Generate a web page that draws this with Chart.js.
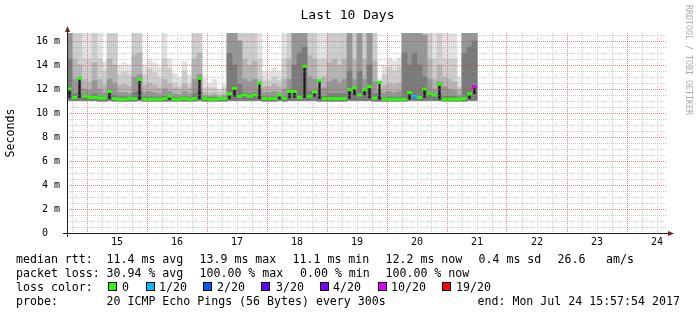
<!DOCTYPE html>
<html>
<head>
<meta charset="utf-8">
<script src="https://cdn.jsdelivr.net/npm/chart.js@4.4.1/dist/chart.umd.min.js"></script>
<style>
  html, body { margin: 0; padding: 0; background: #fff; }
</style>
</head>
<body>
<canvas id="smoke" width="697" height="315"></canvas>
<script>
// time of each 2 h bin, in hours since Jul 14 00:00
const binHours = [
  17, 19, 21, 23, 25, 27, 29, 31, 33, 35, 37, 39, 41, 43, 45, 47, 49, 51, 53, 55,
  57, 59, 61, 63, 65, 67, 69, 71, 73, 75, 77, 79, 81, 83, 85, 87, 89, 91, 93, 95,
  97, 99, 101, 103, 105, 107, 109, 111, 113, 115, 117, 119, 121, 123, 125, 127, 129, 131, 133, 135,
  137, 139, 141, 143, 145, 147, 149, 151, 153, 155, 157, 159, 161, 163, 165, 167, 169, 171, 173, 175,
  177, 179
];

// median rtt (ms)
const median = [
  12.0, 11.3, 12.9, 11.4, 11.3, 11.3, 11.25, 11.25, 11.8, 11.2,
  11.15, 11.15, 11.2, 11.2, 12.8, 11.15, 11.15, 11.15, 11.15, 11.2,
  11.4, 11.15, 11.15, 11.2, 11.15, 11.2, 12.9, 11.2, 11.15, 11.15,
  11.2, 11.2, 11.6, 12.05, 11.4, 11.5, 11.4, 11.5, 12.5, 11.2,
  11.2, 11.2, 11.5, 11.25, 11.8, 11.8, 11.3, 13.9, 11.4, 11.75,
  12.7, 11.2, 11.2, 11.2, 11.2, 11.2, 11.95, 12.1, 11.5, 11.95,
  12.2, 11.25, 12.55, 11.15, 11.15, 11.15, 11.15, 11.15, 11.7, 11.4,
  11.3, 12.0, 11.6, 11.5, 12.4, 11.15, 11.15, 11.15, 11.15, 11.2,
  11.6, 12.2
];

// lost pings out of 20
const loss = [
  0, 0, 0, 0, 0, 0, 0, 0, 0, 0, 0, 0, 0, 0, 0, 0, 0, 0, 0, 0,
  0, 0, 0, 0, 0, 0, 0, 0, 0, 0, 0, 0, 0, 0, 0, 0, 0, 0, 0, 0,
  0, 0, 0, 0, 0, 0, 0, 0, 0, 0, 0, 0, 0, 0, 0, 0, 0, 0, 0, 0,
  0, 0, 0, 0, 0, 0, 0, 0, 0, 1, 0, 0, 0, 0, 0, 0, 0, 0, 0, 0,
  0, 10
];

// fastest ping of each bin (bottom of the smoke)
const smokeMin = [
  11.05, 11.05, 11.05, 11.05, 11.05, 11.05, 11.0, 11.0, 11.05, 11.0,
  11.0, 11.0, 11.0, 11.0, 11.05, 11.0, 11.0, 11.0, 11.0, 11.0,
  11.0, 11.0, 11.0, 11.0, 11.0, 11.0, 11.05, 11.0, 11.0, 11.0,
  11.0, 11.0, 11.05, 11.05, 11.05, 11.05, 11.05, 11.05, 11.05, 11.0,
  11.0, 11.0, 11.05, 11.0, 11.05, 11.05, 11.05, 11.05, 11.05, 11.05,
  11.0, 11.0, 11.0, 11.0, 11.0, 11.0, 11.05, 11.05, 11.05, 11.05,
  11.05, 11.0, 11.0, 11.0, 11.0, 11.0, 11.0, 11.0, 11.05, 11.05,
  11.05, 11.05, 11.05, 11.05, 11.05, 11.0, 11.0, 11.0, 11.0, 11.0,
  11.05, 11.05
];

// upper edge of each smoke band, outer (light) to inner (dark); 17 = above the top
const smoke1 = [
  17, 17, 17, 17, 17, 17, 17, 14.3, 17, 17,
  14.0, 14.2, 14.0, 17, 17, 14.0, 14.5, 14.2, 13.8, 17,
  14.5, 13.3, 13.0, 14.3, 13.2, 17, 17, 12.9, 12.5, 12.8,
  12.0, 12.4, 17, 17, 17, 17, 17, 17, 17, 13.5,
  13.5, 13.8, 13.5, 17, 17, 17, 17, 17, 17, 17,
  17, 17, 17, 17, 17, 17, 17, 17, 17, 17,
  17, 17, 12.8, 14.0, 14.6, 14.3, 14.6, 17, 17, 17,
  17, 17, 17, 17, 17, 17, 17, 17, 13.0, 17,
  17, 17
];
const smoke2 = [
  17, 17, 17, 14.5, 14.5, 17, 14.5, 13.5, 17, 17,
  13.2, 13.4, 13.2, 17, 17, 13.2, 13.7, 13.4, 13.0, 14.5,
  13.7, 12.5, 12.2, 13.5, 12.4, 17, 17, 12.1, 12.1, 12.1,
  11.8, 12.1, 17, 17, 17, 17, 17, 17, 14.5, 12.7,
  12.7, 13.0, 12.7, 14.5, 17, 17, 17, 17, 17, 17,
  14.5, 14.5, 17, 17, 17, 17, 17, 17, 17, 17,
  17, 17, 12.0, 13.2, 13.8, 13.5, 13.8, 17, 17, 17,
  17, 17, 17, 14.5, 17, 14.5, 14.5, 14.5, 12.2, 17,
  17, 17
];
const smoke3 = [
  17, 14.5, 14.0, 12.8, 12.6, 14.2, 12.8, 12.3, 14.5, 14.0,
  12.3, 12.4, 12.2, 14.8, 15.0, 12.3, 12.5, 12.3, 12.1, 12.8,
  12.4, 12.1, 12.0, 12.4, 12.1, 14.5, 15.0, 11.7, 11.6, 11.7,
  11.5, 11.6, 17, 17, 16.0, 14.5, 14.0, 14.3, 12.8, 12.2,
  12.2, 12.4, 12.2, 12.8, 14.5, 17, 17, 17, 14.8, 14.5,
  12.8, 13.0, 14.2, 14.5, 14.0, 14.5, 17, 14.5, 16.5, 14.5,
  17, 14.3, 12.0, 12.3, 12.5, 12.4, 12.5, 17, 17, 17,
  17, 16.5, 14.5, 12.8, 14.0, 13.0, 12.8, 12.6, 12.0, 17,
  17, 17
];
const smoke4 = [
  17, 12.8, 12.6, 12.0, 11.9, 12.7, 12.0, 11.7, 12.8, 12.5,
  11.7, 11.7, 11.6, 13.0, 13.2, 11.7, 11.8, 11.7, 11.6, 12.0,
  11.8, 11.6, 11.5, 11.8, 11.6, 12.8, 13.2, 11.45, 11.4, 11.45,
  11.35, 11.4, 17, 17, 16.0, 12.8, 12.6, 12.8, 12.0, 11.7,
  11.7, 11.8, 11.7, 12.0, 12.8, 17, 17, 17, 13.0, 12.8,
  12.0, 12.1, 12.6, 12.8, 12.5, 12.8, 17, 12.8, 17, 12.8,
  17, 12.6, 11.6, 11.7, 11.8, 11.7, 11.8, 17, 17, 17,
  17, 16.5, 12.8, 12.0, 12.6, 12.2, 12.0, 11.9, 11.5, 17,
  17, 17
];
const smoke5 = [
  14.5, 11.6, 11.6, 11.4, 11.4, 11.6, 11.4, 11.35, 11.6, 11.5,
  11.35, 11.35, 11.3, 11.7, 11.8, 11.35, 11.35, 11.35, 11.3, 11.4,
  11.4, 11.3, 11.3, 11.35, 11.3, 11.6, 11.8, 11.3, 11.3, 11.3,
  11.25, 11.3, 15.0, 14.0, 12.4, 11.7, 11.6, 11.7, 11.4, 11.35,
  11.35, 11.35, 11.35, 11.4, 11.6, 14.0, 15.0, 15.5, 11.8, 11.7,
  11.4, 11.4, 11.6, 11.6, 11.6, 11.6, 13.5, 11.7, 13.5, 11.7,
  14.0, 11.6, 11.3, 11.3, 11.35, 11.3, 11.35, 15.0, 14.0, 15.0,
  14.0, 13.0, 11.7, 11.4, 11.6, 11.4, 11.4, 11.4, 11.3, 15.0,
  15.5, 16.0
];

// x axis: day labels sit at noon
const dayNoonHours = [36, 60, 84, 108, 132, 156, 180, 204, 228, 252];
const dayLabels = ['15', '16', '17', '18', '19', '20', '21', '22', '23', '24'];

const lossSteps = [0, 1, 2, 3, 4, 10, 19];
const lossLabels = ['0', '1/20', '2/20', '3/20', '4/20', '10/20', '19/20'];
const lossColors = ['#26ff00', '#00b8ff', '#0059ff', '#5e00ff', '#7e00ff', '#dd00ff', '#ff0000'];

const statRows = [
  ['median rtt:', '11.4 ms avg', '13.9 ms max', '11.1 ms min', '12.2 ms now', '0.4 ms sd', '26.6', 'am/s'],
  ['packet loss:', '30.94 % avg', '100.00 % max', '0.00 % min', '100.00 % now'],
  ['probe:', '20 ICMP Echo Pings (56 Bytes) every 300s', 'end: Mon Jul 24 15:57:54 2017']
];

const smokeGreys = ['#e2e2e2', '#cdcdcd', '#b4b4b4', '#969696', '#7a7a7a'];
const minorGrid = 'rgba(150,150,150,0.45)';
const majorGrid = 'rgba(210,60,60,0.6)';
const mono = '"DejaVu Sans Mono", monospace';

function lossColor(n) {
  const k = lossSteps.indexOf(n);
  return lossColors[k < 0 ? 0 : k];
}

function band(tops) {
  return binHours.map((h, i) => ({ x: h, y: [smokeMin[i], tops[i]] }));
}

const smokeSets = [smoke1, smoke2, smoke3, smoke4, smoke5].map((tops, k) => ({
  type: 'bar',
  data: band(tops),
  backgroundColor: smokeGreys[k],
  borderWidth: 0,
  barPercentage: 1,
  categoryPercentage: 1,
  grouped: false,
  clip: 0,
  order: 10 - k
}));

// thin black line from neighbouring medians up to each median (spikes)
const medianStems = binHours.map((h, i) => {
  const prev = i > 0 ? median[i - 1] : median[i];
  const next = i < median.length - 1 ? median[i + 1] : median[i];
  return { x: h, y: [Math.min(prev, next, median[i]), median[i]] };
});

const gridHours = [];
for (let h = 18; h < 256; h += 6) gridHours.push(h);
const gridRtt = [];
for (let v = 0; v <= 16.5; v += 0.5) gridRtt.push(v);

const decor = {
  id: 'decor',
  afterDraw(chart) {
    const { ctx, chartArea: a } = chart;
    ctx.save();
    // axes with arrows
    ctx.strokeStyle = 'rgb(31,31,31)';
    ctx.lineWidth = 1;
    ctx.beginPath();
    ctx.moveTo(a.left - 4, a.bottom + 0.5);
    ctx.lineTo(a.right + 2, a.bottom + 0.5);
    ctx.moveTo(a.left + 0.5, a.bottom + 4);
    ctx.lineTo(a.left + 0.5, a.top - 2);
    ctx.stroke();
    ctx.fillStyle = 'rgb(128,31,31)';
    ctx.beginPath();
    ctx.moveTo(a.right + 1, a.bottom - 2);
    ctx.lineTo(a.right + 7, a.bottom + 0.5);
    ctx.lineTo(a.right + 1, a.bottom + 3);
    ctx.closePath();
    ctx.fill();
    ctx.beginPath();
    ctx.moveTo(a.left - 2, a.top - 1);
    ctx.lineTo(a.left + 0.5, a.top - 7);
    ctx.lineTo(a.left + 3, a.top - 1);
    ctx.closePath();
    ctx.fill();

    // title
    ctx.fillStyle = '#000';
    ctx.font = '13px ' + mono;
    ctx.textAlign = 'center';
    ctx.textBaseline = 'alphabetic';
    ctx.fillText('Last 10 Days', 347.5, 18.5);

    // watermark
    ctx.save();
    ctx.translate(688.5, 5);
    ctx.rotate(Math.PI / 2);
    ctx.font = '8.3px ' + mono;
    ctx.fillStyle = '#aaaaaa';
    ctx.textAlign = 'left';
    ctx.textBaseline = 'middle';
    ctx.fillText('RRDTOOL / TOBI OETIKER', 0, 0);
    ctx.restore();

    // legend block
    ctx.font = '11.6px ' + mono;
    ctx.textAlign = 'left';
    ctx.fillStyle = '#000';
    const rowX = [
      [16, 106.5, 199.5, 292.5, 385.5, 478.5, 557.5, 606],
      [16, 106.5, 199.5, 300, 385.5],
      [16, 106.5, 477.5]
    ];
    const rowY = [263, 277, 304.5];
    statRows.forEach((row, r) => {
      row.forEach((txt, c) => ctx.fillText(txt, rowX[r][c], rowY[r]));
    });
    ctx.fillText('loss color:', 16, 291);
    const boxX = [108, 146, 203, 261, 320, 378, 442];
    const labX = [122, 159, 217, 276, 333, 391, 456];
    lossLabels.forEach((lab, k) => {
      ctx.fillStyle = lossColors[k];
      ctx.fillRect(boxX[k], 282, 9, 9);
      ctx.strokeStyle = '#000';
      ctx.strokeRect(boxX[k] + 0.5, 282.5, 8, 8);
      ctx.fillStyle = '#000';
      ctx.fillText(lab, labX[k], 291);
    });
    ctx.restore();
  }
};

new Chart(document.getElementById('smoke'), {
  type: 'bar',
  data: {
    datasets: [
      {
        type: 'line',
        data: binHours.map((h, i) => ({ x: h, y: median[i] })),
        showLine: false,
        pointStyle: 'line',
        pointRadius: 2.5,
        pointBorderWidth: 3,
        pointBorderColor: c => lossColor(loss[c.dataIndex]),
        pointBackgroundColor: c => lossColor(loss[c.dataIndex]),
        clip: 0,
        order: 0
      },
      {
        type: 'bar',
        data: medianStems,
        backgroundColor: '#1a1a1a',
        borderWidth: 0,
        barThickness: 1.6,
        grouped: false,
        clip: 0,
        order: 1
      },
      ...smokeSets
    ]
  },
  options: {
    responsive: false,
    animation: false,
    events: [],
    layout: { padding: { left: 0, right: 30, top: 33, bottom: 62 } },
    plugins: {
      legend: { display: false },
      tooltip: { enabled: false },
      title: { display: false }
    },
    scales: {
      x: {
        type: 'linear',
        min: 16,
        max: 256,
        offset: false,
        afterBuildTicks: s => { s.ticks = gridHours.map(v => ({ value: v })); },
        afterFit: s => { s.height = 20; },
        grid: {
          offset: false,
          z: 1,
          drawTicks: false,
          lineWidth: 1,
          color: c => (c.tick && c.tick.value % 24 === 0 ? majorGrid : minorGrid)
        },
        border: { display: false, dash: [1, 1] },
        ticks: {
          autoSkip: false,
          maxRotation: 0,
          padding: 3,
          color: '#000',
          font: { family: mono, size: 10 },
          callback: v => {
            const k = dayNoonHours.indexOf(v);
            return k < 0 ? '' : dayLabels[k];
          }
        }
      },
      y: {
        min: 0,
        max: 16.67,
        afterBuildTicks: s => { s.ticks = gridRtt.map(v => ({ value: v })); },
        afterFit: s => { s.width = 67; },
        grid: {
          z: 1,
          drawTicks: false,
          lineWidth: 1,
          color: c => (c.tick && c.tick.value % 2 === 0 ? majorGrid : minorGrid)
        },
        border: { display: false, dash: [1, 1] },
        title: {
          display: true,
          text: 'Seconds',
          color: '#000',
          font: { family: mono, size: 11.6 },
          padding: { top: 4, bottom: 0 }
        },
        ticks: {
          autoSkip: false,
          padding: 7,
          color: '#000',
          font: { family: mono, size: 10 },
          callback: v => (v % 2 !== 0 ? '' : v === 0 ? '0  ' : v + ' m')
        }
      }
    }
  },
  plugins: [decor]
});
</script>
</body>
</html>
